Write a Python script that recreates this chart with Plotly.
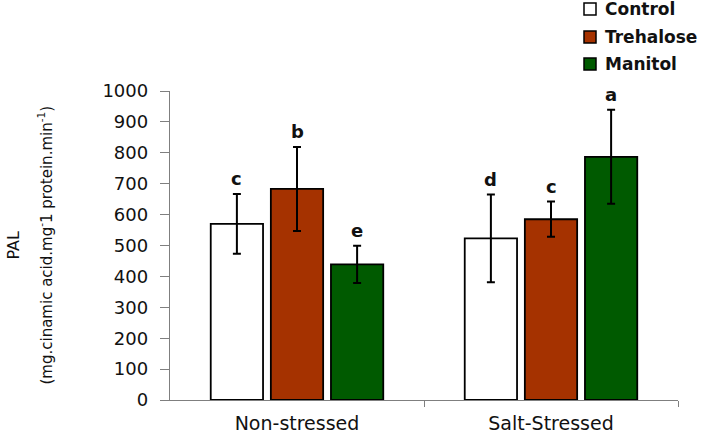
import plotly.graph_objects as go

categories = ["Non-stressed", "Salt-Stressed"]
series_names = ["Control", "Trehalose", "Manitol"]
control = [570, 523]
trehalose = [683, 585]
manitol = [439, 787]
control_err = [97, 142]
trehalose_err = [136, 57]
manitol_err = [60, 152]
control_letters = ["c", "d"]
trehalose_letters = ["b", "c"]
manitol_letters = ["e", "a"]
y_ticks = [0, 100, 200, 300, 400, 500, 600, 700, 800, 900, 1000]

colors = ["#FFFFFF", "#A53200", "#005A00"]
values = [control, trehalose, manitol]
errs = [control_err, trehalose_err, manitol_err]
letters = [control_letters, trehalose_letters, manitol_letters]

FONT = "DejaVu Sans, Verdana, sans-serif"
W, H = 708, 435
ML, MR, MT, MB = 170, 30, 91, 35
PW, PH = W - ML - MR, H - MT - MB

def px_x(px):
    return (px - ML) / PW

def px_y(py):
    return (H - MB - py) / PH

bargap = 0.29
bargroupgap = 0.13
slot = (1 - bargap) / 3

xpos = list(range(len(categories)))

fig = go.Figure()
for i, name in enumerate(series_names):
    fig.add_trace(go.Bar(
        x=xpos, y=values[i], name=name, showlegend=False, hoverinfo="skip",
        marker=dict(color=colors[i], line=dict(color="#000000", width=1.8)),
        error_y=dict(type="data", array=errs[i], color="#000000", thickness=2, width=4),
    ))

annotations = []
for i in range(3):
    off = (i - 1) * slot
    for j, xc in enumerate(xpos):
        annotations.append(dict(
            x=xc + off, y=values[i][j] + errs[i][j], xref="x", yref="y",
            text="<b>%s</b>" % letters[i][j], showarrow=False,
            yanchor="bottom", yshift=3,
            font=dict(family=FONT, size=18, color="#111111"),
        ))

annotations.append(dict(
    x=px_x(13), y=0.5, xref="paper", yref="paper", text="PAL", showarrow=False,
    textangle=-90, xanchor="center", yanchor="middle",
    font=dict(family=FONT, size=16, color="#111111"),
))
annotations.append(dict(
    x=px_x(45), y=0.5, xref="paper", yref="paper",
    text="(mg.cinamic acid.mg<sup>-</sup>1 protein.min<sup>-1</sup>)", showarrow=False,
    textangle=-90, xanchor="center", yanchor="middle",
    font=dict(family=FONT, size=15, color="#111111"),
))

# manual legend
shapes = []
legend_rows = [9, 37, 64]
for i, name in enumerate(series_names):
    yc = legend_rows[i]
    shapes.append(dict(
        type="rect", xref="paper", yref="paper",
        x0=px_x(584), x1=px_x(596), y0=px_y(yc + 6), y1=px_y(yc - 6),
        fillcolor=colors[i], line=dict(color="#000000", width=1.5),
    ))
    annotations.append(dict(
        x=px_x(603), y=px_y(yc), xref="paper", yref="paper",
        text="<b>%s</b>" % name, showarrow=False, xanchor="left", yanchor="middle",
        font=dict(family=FONT, size=17, color="#111111"),
    ))

fig.update_layout(
    width=W, height=H,
    margin=dict(l=ML, r=MR, t=MT, b=MB, autoexpand=False),
    paper_bgcolor="white", plot_bgcolor="white",
    barmode="group", bargap=bargap, bargroupgap=bargroupgap,
    showlegend=False, hovermode=False,
    annotations=annotations, shapes=shapes,
    font=dict(family=FONT, color="#111111"),
)

fig.update_xaxes(
    range=[-0.5, 1.5], tickvals=xpos, ticktext=categories, ticks="",
    showline=True, linecolor="#7F7F7F", linewidth=1.2, showgrid=False, zeroline=False,
    tickfont=dict(family=FONT, size=19, color="#111111"), ticklabelstandoff=6,
    minor=dict(tickvals=[0.5, 1.5], ticks="outside", ticklen=6, tickcolor="#7F7F7F", showgrid=False),
)
fig.update_yaxes(
    range=[0, 1000], tickvals=y_ticks, ticks="outside", ticklen=9, tickcolor="#7F7F7F",
    showline=True, linecolor="#7F7F7F", linewidth=1.2, showgrid=False, zeroline=False,
    tickfont=dict(family=FONT, size=18, color="#111111"), ticklabelstandoff=8,
)

fig.write_html("out.html", config={"displayModeBar": False, "staticPlot": True},
               post_script="document.body.style.margin='0px';")
